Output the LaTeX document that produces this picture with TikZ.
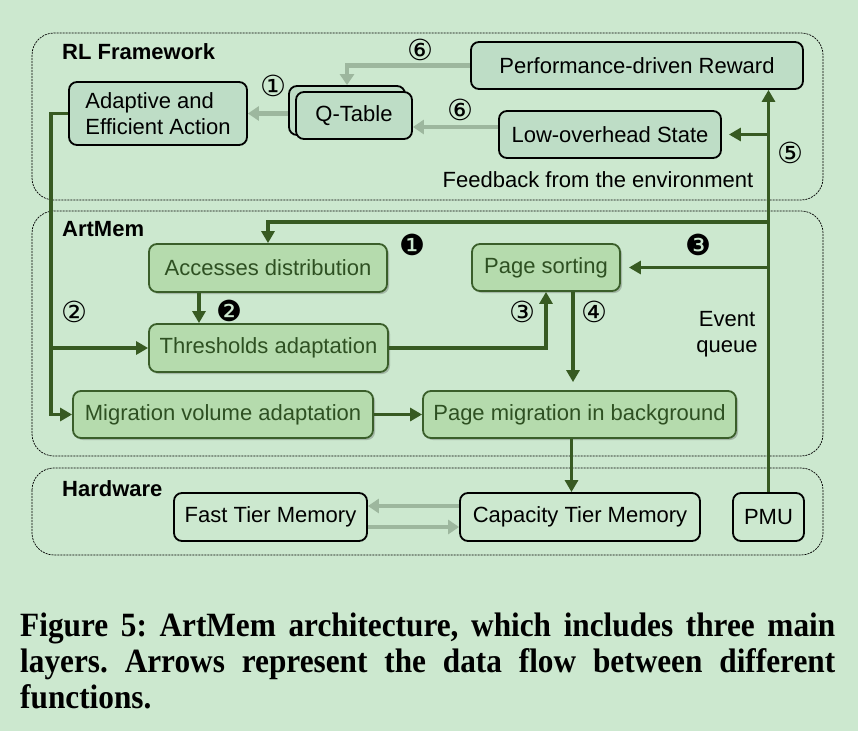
\documentclass[tikz,border=0pt]{standalone}
\usepackage{fontspec}
\setmainfont{Liberation Sans}
\newfontfamily\symfont{DejaVu Sans}
\newfontfamily\capfont[FakeStretch=0.92]{Liberation Serif}
\usetikzlibrary{arrows.meta,shadows}
\frenchspacing
\definecolor{bggreen}{HTML}{CCE8CF}
\definecolor{rlfill}{HTML}{BEDDC6}
\definecolor{amfill}{HTML}{B5DBAD}
\definecolor{amline}{HTML}{3A5E2A}
\definecolor{amtext}{HTML}{2E5022}
\definecolor{darkflow}{HTML}{375A22}
\definecolor{grayflow}{HTML}{9DB79E}
\newcommand{\boxfont}{\fontsize{22}{26}\selectfont}
\newcommand{\numfont}{\symfont\fontsize{29}{32}\selectfont}
\newcommand{\captionfont}{\capfont\bfseries\fontsize{34}{36}\selectfont}
\begin{document}
\begin{tikzpicture}[x=1pt, y=-1pt,
        layerbox/.style={draw, dashed, dash pattern=on 2pt off 1pt, line width=0.7pt, rounded corners=22pt},
        layertitle/.style={anchor=west, font=\boxfont\bfseries, inner sep=0pt},
        rlbox/.style={draw, line width=1.8pt, fill=rlfill, rounded corners=8pt, inner sep=0pt, font=\boxfont},
        ambox/.style={draw=amline, line width=1.8pt, fill=amfill, rounded corners=8pt, inner sep=0pt,
            text=amtext, font=\boxfont, drop shadow={shadow xshift=2pt, shadow yshift=-2pt, opacity=0.3, fill=black!70}},
        hwbox/.style={draw, line width=1.8pt, fill=bggreen, rounded corners=8pt, inner sep=0pt, font=\boxfont},
        darkarr/.style={draw=darkflow, line width=3.6pt, -{Triangle[length=12pt,width=13pt]}},
        grayarr/.style={draw=grayflow, line width=4.5pt, -{Triangle[length=11pt,width=14pt]}},
        num/.style={font=\numfont, inner sep=0pt},
        capline/.style={anchor=base west, inner sep=0pt, font=\captionfont}]
    \fill[bggreen] (0,0) rectangle (858,731);
    \useasboundingbox (0,0) rectangle (858,731);

    % three layers
    \draw[layerbox] (32,33) rectangle (823,200);
    \draw[layerbox] (32,211) rectangle (823,456);
    \draw[layerbox] (32,468) rectangle (823,555);
    \node[layertitle] (rltitle) at (62,52) {RL Framework};
    \node[layertitle] (amtitle) at (62,229) {ArtMem};
    \node[layertitle] (hwtitle) at (62,489) {Hardware};

    % RL framework
    \node[rlbox, minimum width=178pt, minimum height=63pt, align=left] (act) at (158,113.5) {Adaptive and\\Efficient Action};
    \node[rlbox, minimum width=116pt, minimum height=49pt] (qback) at (347,110.5) {};
    \node[rlbox, minimum width=116pt, minimum height=47pt] (qtab) at (354,115.5) {Q-Table};
    \node[rlbox, minimum width=332pt, minimum height=47pt] (rew) at (637,65.5) {Performance-driven Reward};
    \node[rlbox, minimum width=222pt, minimum height=47pt] (state) at (610,134.5) {Low-overhead State};
    \node[font=\boxfont, inner sep=0pt] (fb) at (598,180) {Feedback from the environment};

    % ArtMem
    \node[ambox, minimum width=238pt, minimum height=48pt] (acc) at (268,268) {Accesses distribution};
    \node[ambox, minimum width=239pt, minimum height=48pt] (thr) at (268.5,348) {Thresholds adaptation};
    \node[ambox, minimum width=300pt, minimum height=47pt] (mig) at (223,414.5) {Migration volume adaptation};
    \node[ambox, minimum width=148pt, minimum height=47pt] (sort) at (546,267.5) {Page sorting};
    \node[ambox, minimum width=313pt, minimum height=47pt] (pmig) at (579.5,414.5) {Page migration in background};
    \node[font=\boxfont, align=center, inner sep=0pt] (evq) at (727,334) {Event\\queue};

    % Hardware
    \node[hwbox, minimum width=193pt, minimum height=48pt] (fast) at (270.5,517) {Fast Tier Memory};
    \node[hwbox, minimum width=240pt, minimum height=48pt] (cap) at (580,517) {Capacity Tier Memory};
    \node[hwbox, minimum width=71pt, minimum height=48pt] (pmu) at (768.5,517) {PMU};

    % gray flows
    \draw[grayarr] (rew.west) -| (qback.north);
    \draw[grayarr] ([yshift=7.5pt]state.west) -- ([yshift=7.5pt]state.west -| qtab.east);
    \draw[grayarr] (qback.west |- act.east) -- (act.east);
    \draw[grayarr] ([yshift=11pt]cap.west) -- ([yshift=11pt]fast.east);
    \draw[grayarr] ([yshift=-10pt]fast.east) -- ([yshift=-10pt]cap.west);

    % action to ArtMem
    \coordinate (lft) at ([xshift=-17pt]act.west);
    \draw[darkarr] (act.west) -- (lft) |- (mig.west);
    \draw[darkarr] (lft |- thr.west) -- (thr.west);

    % event queue
    \coordinate (eq) at (pmu.north);
    \coordinate (eqtop) at (769,222);
    \draw[darkarr] (eq) -- (eq |- rew.south);
    \draw[darkarr, shorten >=7pt] (eq |- state.east) -- (state.east);
    \draw[darkarr] (eqtop) -| (acc.north);
    \draw[darkarr, shorten >=8pt] (eq |- sort.east) -- (sort.east);

    % inside ArtMem
    \draw[darkarr] ([xshift=-69pt]acc.south) -- ([xshift=-69pt]acc.south |- thr.north);
    \draw[darkarr] (thr.east) -| (sort.south);
    \draw[darkarr, shorten >=8pt] ([xshift=27pt]sort.south) -- ([xshift=27pt]sort.south |- pmig.north);
    \draw[darkarr] (mig.east) -- (pmig.west);
    \draw[darkarr] ([xshift=-8pt]pmig.south) -- ([xshift=-8pt]pmig.south |- cap.north);

    % step numbers
    \node[num] (n6a) at (420,50) {⑥};
    \node[num] (n6b) at (460,110) {⑥};
    \node[num] (n1) at (273,86) {①};
    \node[num] (n5) at (790,153) {⑤};
    \node[num] (n2) at (74,312) {②};
    \node[num] (n3) at (522,312) {③};
    \node[num] (n4) at (594,312) {④};
    \node[num] (d1) at (412,245) {❶};
    \node[num] (d2) at (229,311) {❷};
    \node[num] (d3) at (698,245) {❸};

    % caption
    \node[capline] (cap1) at (20,636) {\makebox[815pt][s]{Figure 5: ArtMem architecture, which includes three main}};
    \node[capline] (cap2) at (20,672) {\makebox[815pt][s]{layers. Arrows represent the data flow between different}};
    \node[capline] (cap3) at (20,708) {functions.};
\end{tikzpicture}
\end{document}
